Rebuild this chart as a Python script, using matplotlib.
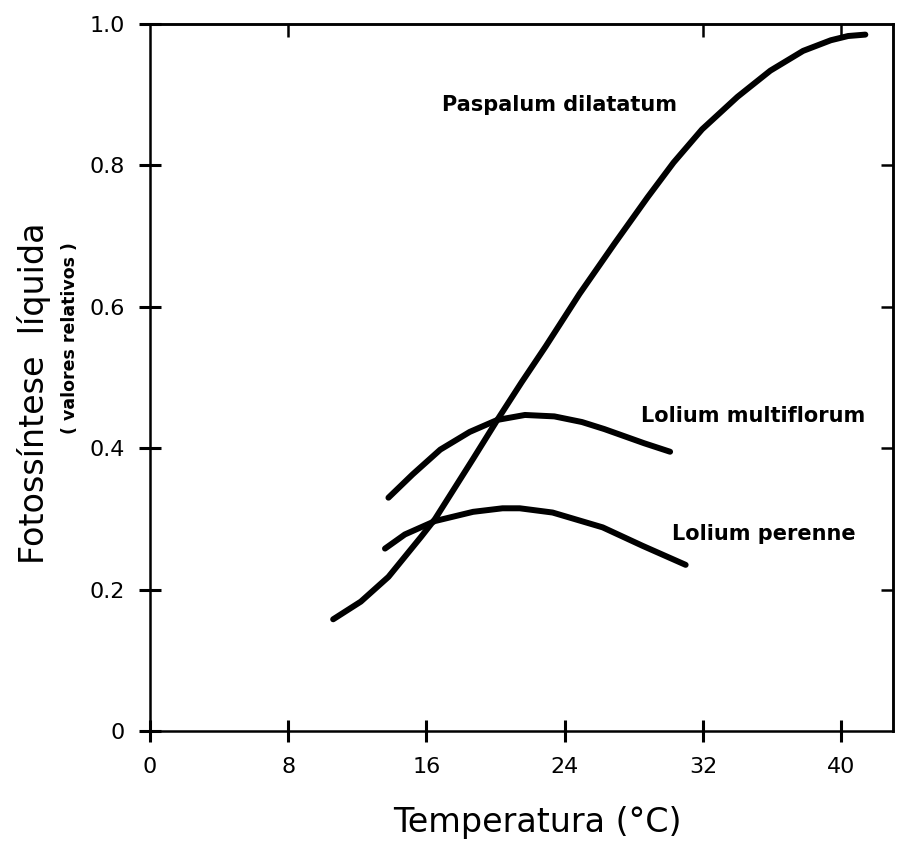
import matplotlib
matplotlib.use("Agg")
import matplotlib.pyplot as plt

# ---- data ----
paspalum_x = [10.6, 12.2, 13.8, 15.7, 16.5, 18.7, 20.1, 21.5, 22.9, 24.85, 26.9,
              28.8, 30.3, 31.95, 34.0, 35.9, 37.8, 39.4, 40.4, 41.4]
paspalum_y = [0.158, 0.183, 0.218, 0.275, 0.300, 0.385, 0.440, 0.493, 0.544, 0.618, 0.690,
              0.755, 0.804, 0.851, 0.897, 0.934, 0.962, 0.977, 0.983, 0.985]

multi_x = [13.8, 15.2, 16.8, 18.5, 20.1, 21.7, 23.4, 25.0, 26.3, 28.6, 30.1]
multi_y = [0.330, 0.363, 0.398, 0.423, 0.440, 0.447, 0.445, 0.437, 0.427, 0.407, 0.395]

perenne_x = [13.6, 14.75, 16.5, 18.7, 20.4, 21.4, 23.3, 26.2, 28.5, 31.0]
perenne_y = [0.258, 0.278, 0.297, 0.310, 0.315, 0.315, 0.309, 0.288, 0.262, 0.235]

x_ticks = [0, 8, 16, 24, 32, 40]
y_ticks = [0, 0.2, 0.4, 0.6, 0.8, 1.0]
y_ticklabels = ["0", "0.2", "0.4", "0.6", "0.8", "1.0"]
top_ticks = [8, 32, 40]
right_ticks = [0.2, 0.4, 0.6, 0.8]

labels = {
    "Paspalum dilatatum": (16.9, 0.886),
    "Lolium multiflorum": (28.4, 0.445),
    "Lolium perenne": (30.2, 0.278),
}

# ---- figure ----
W, H = 903, 847
fig = plt.figure(figsize=(W / 100, H / 100), dpi=100)
fig.patch.set_facecolor("white")
ax = fig.add_axes([150 / W, 1 - 731 / H, (893 - 150) / W, (731 - 24) / H])

lw = 4.3
for xs, ys in [(paspalum_x, paspalum_y), (multi_x, multi_y), (perenne_x, perenne_y)]:
    ax.plot(xs, ys, color="black", lw=lw, solid_capstyle="round", solid_joinstyle="round")

ax.set_xlim(0, 43)
ax.set_ylim(0, 1.0)

for s in ax.spines.values():
    s.set_linewidth(1.8)

ax.set_xticks(x_ticks)
ax.set_xticklabels([str(t) for t in x_ticks])
ax.set_yticks(y_ticks)
ax.set_yticklabels(y_ticklabels)
ax.tick_params(axis="both", direction="inout", length=16, width=2.2,
               labelsize=16, colors="black")
ax.tick_params(axis="x", pad=11)
ax.tick_params(axis="y", pad=10)

sec_x = ax.secondary_xaxis("top")
sec_x.set_xticks(top_ticks)
sec_x.set_xticklabels([])
sec_x.tick_params(direction="in", length=9, width=1.8)
sec_x.spines["top"].set_linewidth(1.8)

sec_y = ax.secondary_yaxis("right")
sec_y.set_yticks(right_ticks)
sec_y.set_yticklabels([])
sec_y.tick_params(direction="in", length=9, width=1.8)
sec_y.spines["right"].set_linewidth(1.8)

for txt, (lx, ly) in labels.items():
    ax.text(lx, ly, txt, fontsize=15, fontweight="bold", ha="left", va="center")

fig.text(34 / W, 1 - 393 / H, "Fotossíntese  líquida", rotation=90, fontsize=24,
         ha="center", va="center")
fig.text(70 / W, 1 - 338 / H, "( valores relativos )", rotation=90, fontsize=12.5,
         fontweight="bold", ha="center", va="center")
fig.text(537 / W, 1 - 822 / H, "Temperatura (°C)", fontsize=24, ha="center", va="center")

fig.savefig("out.png", dpi=100, facecolor="white")
